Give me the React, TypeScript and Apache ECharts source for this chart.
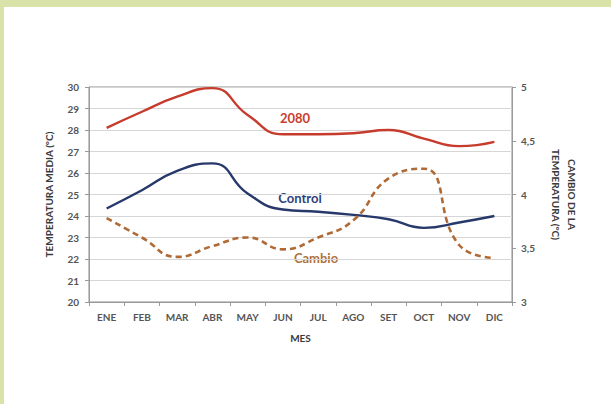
import React, { useEffect, useRef } from "react";
import * as echarts from "echarts";

const months = ["ENE", "FEB", "MAR", "ABR", "MAY", "JUN", "JUL", "AGO", "SET", "OCT", "NOV", "DIC"];
const temp2080 = [28.1, 28.85, 29.55, 29.95, 28.7, 27.8, 27.8, 27.85, 28.0, 27.6, 27.25, 27.45];
const tempControl = [24.35, 25.2, 26.1, 26.45, 25.05, 24.3, 24.2, 24.05, 23.85, 23.45, 23.7, 24.0];
const cambio = [3.78, 3.6, 3.42, 3.52, 3.6, 3.49, 3.6, 3.76, 4.15, 4.24, 3.53, 3.41];

const FONT = "Lato, 'Open Sans', sans-serif";

export default function App() {
  const ref = useRef<HTMLDivElement>(null);
  useEffect(() => {
    document.body.style.margin = "0";
    const chart = echarts.init(ref.current!, null, { renderer: "svg" });
    const axisLabel = { fontFamily: FONT, fontSize: 10, fontWeight: "bold" as const, color: "#555555" };
    chart.setOption({
      animation: false,
      backgroundColor: "#ffffff",
      textStyle: { fontFamily: FONT },
      grid: { left: 89, right: 99, top: 87, bottom: 102, show: true, borderColor: "#8c8c8c", borderWidth: 1 },
      xAxis: {
        type: "category",
        data: months,
        boundaryGap: true,
        axisLine: { lineStyle: { color: "#9a9a9a" } },
        axisTick: { show: true, length: 4, lineStyle: { color: "#9a9a9a" } },
        axisLabel: { ...axisLabel, margin: 10 },
        name: "MES",
        nameLocation: "middle",
        nameGap: 31,
        nameTextStyle: { fontFamily: FONT, fontSize: 10, fontWeight: "bold", color: "#3a3a3a" },
      },
      yAxis: [
        {
          type: "value",
          min: 20,
          max: 30,
          interval: 1,
          axisLine: { show: true, lineStyle: { color: "#9a9a9a" } },
          axisTick: { show: true, length: 4, lineStyle: { color: "#9a9a9a" } },
          axisLabel: { ...axisLabel, margin: 10 },
          splitLine: { show: true, lineStyle: { color: "#d6d6d6", width: 1 } },
          name: "TEMPERATURA MEDIA (°C)",
          nameLocation: "middle",
          nameGap: 35,
          nameTextStyle: { fontFamily: FONT, fontSize: 10, fontWeight: "bold", color: "#3a3a3a" },
        },
        {
          type: "value",
          min: 3,
          max: 5,
          interval: 0.5,
          position: "right",
          axisLine: { show: true, lineStyle: { color: "#9a9a9a" } },
          axisTick: { show: true, length: 4, lineStyle: { color: "#9a9a9a" } },
          axisLabel: { ...axisLabel, margin: 9, formatter: (v: number) => String(v).replace(".", ",") },
          splitLine: { show: false },
          name: "CAMBIO DE LA\nTEMPERATURA (°C)",
          nameLocation: "middle",
          nameRotate: -90,
          nameGap: 36,
          nameTextStyle: { fontFamily: FONT, fontSize: 10, fontWeight: "bold", color: "#3a3a3a", lineHeight: 16 },
        },
      ],
      series: [
        {
          name: "2080",
          type: "line",
          data: temp2080,
          yAxisIndex: 0,
          smooth: 0.5,
          symbol: "none",
          lineStyle: { color: "#c63b2c", width: 2.4 },
        },
        {
          name: "Control",
          type: "line",
          data: tempControl,
          yAxisIndex: 0,
          smooth: 0.5,
          symbol: "none",
          lineStyle: { color: "#27386b", width: 2.4 },
        },
        {
          name: "Cambio",
          type: "line",
          data: cambio,
          yAxisIndex: 1,
          smooth: 0.5,
          symbol: "none",
          lineStyle: { color: "#b06a35", width: 2.6, type: [6, 4] },
        },
      ],
      graphic: [
        { type: "rect", shape: { x: 0, y: 0, width: 611, height: 7 }, style: { fill: "#d9e3a9" } },
        { type: "rect", shape: { x: 0, y: 0, width: 4, height: 404 }, style: { fill: "#d9e3a9" } },
        { type: "text", x: 295, y: 118, style: { text: "2080", fill: "#c8402e", font: `bold 13px ${FONT}`, textAlign: "center", textVerticalAlign: "middle" } },
        { type: "text", x: 300, y: 198, style: { text: "Control", fill: "#2e3f7d", font: `bold 13px ${FONT}`, textAlign: "center", textVerticalAlign: "middle" } },
        { type: "text", x: 316, y: 258, style: { text: "Cambio", fill: "#b0703a", font: `bold 13px ${FONT}`, textAlign: "center", textVerticalAlign: "middle" } },
      ],
    });
    return () => chart.dispose();
  }, []);
  return <div ref={ref} style={{ width: 611, height: 404 }} />;
}
